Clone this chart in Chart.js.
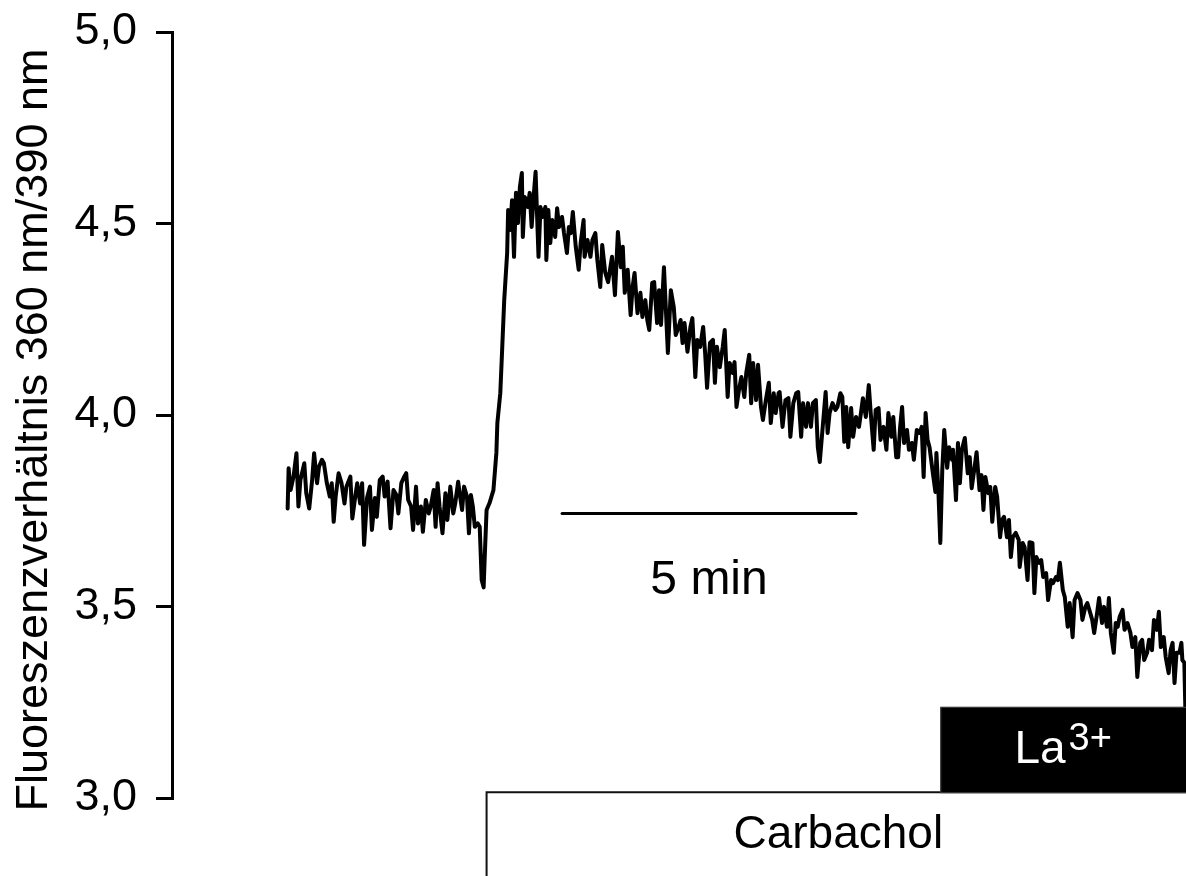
<!DOCTYPE html>
<html>
<head>
<meta charset="utf-8">
<script src="https://cdn.jsdelivr.net/npm/chart.js@4.4.1/dist/chart.umd.min.js"></script>
<style>
  html, body { margin: 0; padding: 0; background: #fff; overflow: hidden; }
  #wrap { width: 1186px; height: 876px; }
</style>
</head>
<body>
<div id="wrap"><canvas id="trace" width="1186" height="876"></canvas></div>
<script>
// Fura-2 ratio trace: time (s) and fluorescence ratio 360 nm / 390 nm
const seconds = [
  118,119,121,124,127,129,131,135,137,140,143,145,148,150,153,155,158,161,163,165,167,170,173,176,178,182,184,187,189,192,194,196,199,202,204,207,209,212,215,217,220,223,226,229,231,234,237,239,241,244,246,249,251,254,256,259,262,264,267,269,271,273,276,279,281,284,287,289,292,294,296,298,301,303,305,307,309,312,314,316,318,319,321,
  324,328,331,332,335,337,339,342,343,345,347,349,351,353,355,357,358,360,363,365,367,369,371,374,376,378,381,382,384,386,388,391,393,395,398,400,403,405,407,409,412,415,417,420,421,424,427,429,432,434,
  437,439,442,445,449,452,455,458,460,462,465,468,470,472,475,478,480,483,485,487,490,492,495,497,499,502,504,506,509,512,514,517,519,521,523,526,529,531,534,536,539,542,544,546,549,552,554,556,559,562,564,567,569,572,574,576,579,581,584,586,589,591,593,596,598,601,603,606,609,611,614,616,619,
  620,623,626,629,631,634,637,639,642,644,647,649,652,654,657,659,661,664,667,669,671,674,677,679,682,684,686,688,690,693,695,698,701,703,705,708,711,713,716,718,721,723,726,729,731,734,736,739,741,743,745,747,750,752,755,757,760,763,765,767,769,771,773,776,779,780,782,
  784,786,788,791,793,796,797,800,802,804,806,809,812,814,816,819,821,824,826,828,830,833,835,837,840,842,845,847,849,852,854,856,858,861,864,865,868,870,873,875,878,880,882,885,887,889,892,894,897,899,902,904,906,909,911,914,916,919,921,924,927,929,932,934,937,939,941,944,946,949,951,954,956,958,961,963,965,967,970,972,975,978,980,983,985,988,990,992,995,997,1000,1002,1005,1007,1009,1012,1014,1017,1019,1021,1023,1025,1028,1030,1031,1033,1034
];
const ratio = [
  3.756,3.861,3.804,3.839,3.900,3.761,3.830,3.874,3.796,3.756,3.830,3.900,3.822,3.865,3.883,3.874,3.822,3.787,3.822,3.721,3.787,3.848,3.822,3.769,3.813,3.839,3.730,3.787,3.822,3.769,3.822,3.661,3.783,3.813,3.700,3.783,3.734,3.830,3.839,3.787,3.826,3.704,3.804,3.791,3.743,3.822,3.839,3.848,3.778,3.761,3.700,3.813,3.717,3.761,3.695,3.778,3.743,3.761,3.804,3.708,3.822,3.761,3.691,3.796,3.726,3.813,3.743,3.769,3.826,3.787,3.752,3.813,3.787,3.691,3.791,3.761,3.708,3.717,3.708,3.569,3.550,3.621,3.752,
  3.770,3.804,3.901,3.979,4.057,4.178,4.300,4.423,4.535,4.483,4.561,4.413,4.580,4.501,4.595,4.632,4.465,4.569,4.543,4.580,4.491,4.569,4.635,4.413,4.543,4.517,4.543,4.405,4.535,4.449,4.509,4.465,4.540,4.491,4.517,4.475,4.423,4.491,4.475,4.530,4.439,4.379,4.449,4.509,4.413,4.457,4.413,4.457,4.475,4.405,
  4.334,4.444,4.373,4.347,4.413,4.313,4.478,4.386,4.439,4.319,4.379,4.261,4.334,4.371,4.266,4.319,4.256,4.300,4.248,4.222,4.345,4.347,4.240,4.326,4.235,4.386,4.274,4.162,4.326,4.282,4.209,4.230,4.248,4.188,4.240,4.165,4.230,4.253,4.099,4.196,4.178,4.230,4.162,4.071,4.188,4.196,4.084,4.178,4.125,4.178,4.222,4.047,4.136,4.110,4.138,4.021,4.073,4.099,4.047,4.110,4.157,4.031,4.136,4.039,4.131,4.021,3.987,4.039,4.084,3.979,4.057,4.005,4.057,
  4.060,3.969,4.039,4.044,3.943,4.031,4.057,4.060,3.943,4.031,3.969,4.031,3.969,4.031,4.039,3.916,3.877,3.969,4.060,3.953,4.005,4.031,4.013,4.021,4.057,4.047,3.930,4.021,3.916,4.018,3.943,3.995,3.969,4.005,4.044,3.995,4.078,4.005,3.909,4.013,4.018,3.935,3.969,3.909,4.005,3.943,3.995,3.890,3.890,3.969,4.021,3.927,3.961,3.909,3.927,3.883,3.961,3.953,3.969,3.838,4.005,3.935,3.916,3.856,3.799,3.901,3.804,
  3.666,3.856,3.961,3.862,3.916,3.883,3.909,3.778,3.927,3.822,3.909,3.940,3.848,3.890,3.809,3.864,3.903,3.804,3.843,3.752,3.838,3.796,3.812,3.721,3.812,3.786,3.681,3.726,3.734,3.681,3.726,3.629,3.681,3.692,3.674,3.603,3.666,3.655,3.569,3.668,3.666,3.535,3.629,3.614,3.621,3.577,3.587,3.517,3.569,3.561,3.577,3.569,3.614,3.543,3.525,3.447,3.509,3.420,3.517,3.535,3.517,3.465,3.499,3.509,3.483,3.465,3.431,3.483,3.522,3.457,3.499,3.447,3.522,3.431,3.379,3.457,3.447,3.473,3.491,3.439,3.457,3.431,3.394,3.420,3.316,3.405,3.413,3.360,3.379,3.413,3.386,3.465,3.439,3.486,3.394,3.420,3.368,3.326,3.386,3.405,3.300,3.379,3.379,3.405,3.360,3.353,3.238
];

// y-axis ticks
const yTicks = [3.0, 3.5, 4.0, 4.5, 5.0];

// time scale bar (start in s, length in min, drawn at this ratio level)
const scaleBarStart = 398;
const scaleBarMinutes = 5;
const scaleBarLevel = 3.743;

// application bars: start time (s)
const carbacholStart = 321;
const lanthanumStart = 784;

const FONT = "'Liberation Sans', Arial, Helvetica, sans-serif";
const AXIS_TITLE = 'Fluoreszenzverhältnis 360 nm/390 nm';

const tracePoints = seconds.map((t, i) => ({ x: t, y: ratio[i] }));

const decorations = {
  id: 'traceDecorations',
  beforeDraw(chart) {
    const { ctx } = chart;
    ctx.save();
    ctx.fillStyle = '#fff';
    ctx.fillRect(0, 0, chart.width, chart.height);
    ctx.restore();
  },
  afterDraw(chart) {
    const { ctx, chartArea, scales: { x, y } } = chart;
    const W = chart.width, H = chart.height;
    ctx.save();

    // y-axis title
    ctx.fillStyle = '#000';
    ctx.font = `45px ${FONT}`;
    ctx.textAlign = 'center';
    ctx.textBaseline = 'alphabetic';
    ctx.translate(47, (chartArea.top + chartArea.bottom) / 2 + 15);
    ctx.rotate(-Math.PI / 2);
    ctx.fillText(AXIS_TITLE, 0, 0);
    ctx.setTransform(1, 0, 0, 1, 0, 0);

    // 5 min scale bar
    const bx0 = x.getPixelForValue(scaleBarStart);
    const bx1 = x.getPixelForValue(scaleBarStart + scaleBarMinutes * 60);
    const by = y.getPixelForValue(scaleBarLevel);
    ctx.strokeStyle = '#000';
    ctx.lineWidth = 3;
    ctx.lineCap = 'round';
    ctx.beginPath();
    ctx.moveTo(bx0, by);
    ctx.lineTo(bx1, by);
    ctx.stroke();
    ctx.font = `48px ${FONT}`;
    ctx.textAlign = 'center';
    ctx.fillText(scaleBarMinutes + ' min', (bx0 + bx1) / 2, y.getPixelForValue(3.532));

    // Carbachol application bar (open box running below the axis)
    const barTop = y.getPixelForValue(3.015);
    const cx0 = x.getPixelForValue(carbacholStart);
    ctx.lineCap = 'butt';
    ctx.lineWidth = 2;
    ctx.strokeStyle = '#111';
    ctx.beginPath();
    ctx.moveTo(cx0, H + 4);
    ctx.lineTo(cx0, barTop);
    ctx.lineTo(W + 4, barTop);
    ctx.stroke();
    ctx.fillStyle = '#000';
    ctx.font = `46px ${FONT}`;
    ctx.textAlign = 'center';
    ctx.fillText('Carbachol', (cx0 + chartArea.right) / 2 + 2, y.getPixelForValue(2.869));

    // La3+ application bar (filled box)
    const lx0 = x.getPixelForValue(lanthanumStart);
    const lTop = y.getPixelForValue(3.238);
    ctx.fillStyle = '#000';
    ctx.fillRect(lx0, lTop, W + 4 - lx0, barTop - lTop);
    ctx.lineWidth = 1;
    ctx.strokeStyle = '#444';
    ctx.strokeRect(lx0 + 0.5, lTop + 0.5, W + 4 - lx0, barTop - lTop);

    const base = `46px ${FONT}`, sup = `38px ${FONT}`;
    ctx.font = base;
    const wLa = ctx.measureText('La').width;
    ctx.font = sup;
    const wSup = ctx.measureText('3+').width;
    const gap = 3;
    const startX = (lx0 + chartArea.right) / 2 - (wLa + gap + wSup) / 2;
    ctx.fillStyle = '#fff';
    ctx.textAlign = 'left';
    ctx.font = base;
    ctx.fillText('La', startX, y.getPixelForValue(3.092));
    ctx.font = sup;
    ctx.fillText('3+', startX + wLa + gap, y.getPixelForValue(3.125));

    ctx.restore();
  }
};

new Chart(document.getElementById('trace'), {
  type: 'line',
  data: {
    datasets: [{
      data: tracePoints,
      borderColor: '#000',
      borderWidth: 4,
      pointRadius: 0,
      tension: 0,
      fill: false,
      borderJoinStyle: 'round',
      borderCapStyle: 'round'
    }]
  },
  options: {
    responsive: false,
    devicePixelRatio: 1,
    animation: false,
    layout: { padding: { top: 32, bottom: 78, left: 0, right: 0 } },
    plugins: { legend: { display: false }, tooltip: { enabled: false } },
    scales: {
      x: { type: 'linear', min: 0, max: 1034.7, display: false },
      y: {
        min: 3,
        max: 5,
        afterBuildTicks: (s) => { s.ticks = yTicks.map(v => ({ value: v })); },
        afterFit: (s) => {
          s.width = 172;
          // the tick labels fit inside the layout padding
          s.paddingTop = 0;
          s.paddingBottom = 0;
        },
        ticks: {
          color: '#000',
          font: { family: FONT, size: 45 },
          padding: 19,
          callback: (v) => Number(v).toFixed(1).replace('.', ',')
        },
        grid: {
          display: true,
          drawOnChartArea: false,
          drawTicks: true,
          tickLength: 16,
          tickWidth: 3,
          tickColor: '#000',
          color: '#000',
          lineWidth: 3
        },
        border: { display: true, color: '#000', width: 3 }
      }
    }
  },
  plugins: [decorations]
});
</script>
</body>
</html>
